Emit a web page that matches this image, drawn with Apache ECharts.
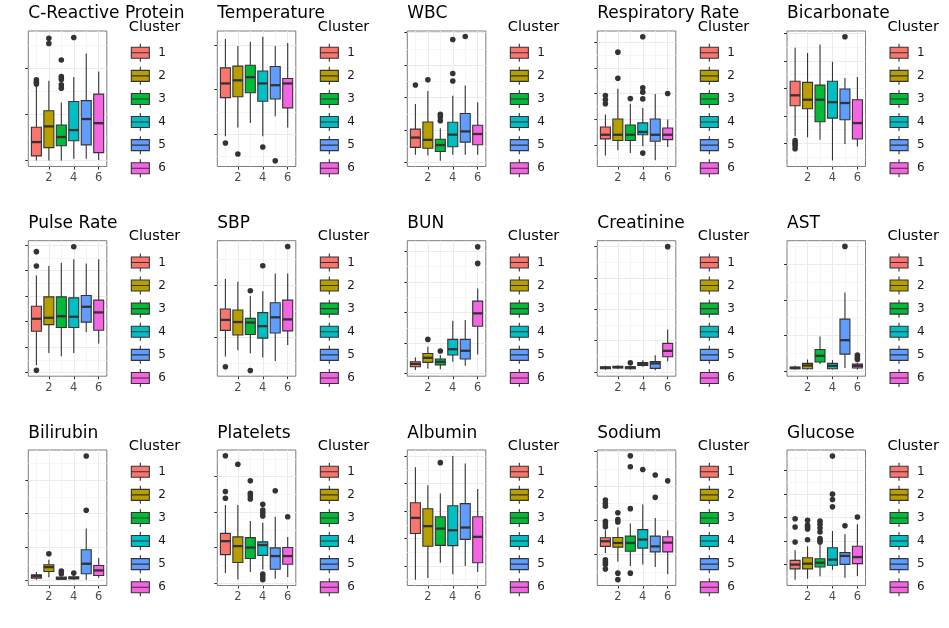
<!DOCTYPE html>
<html><head><meta charset="utf-8">
<script src="https://cdn.jsdelivr.net/npm/echarts@6.0.0/dist/echarts.min.js"></script>
<style>html,body{margin:0;padding:0;background:#fff}#c{width:949px;height:628px}</style>
</head><body><div id="c"></div><script>
// ---- data (values in units of each panel's y tick spacing; y tick labels are hidden in the source) ----
const clusterNames = ['1','2','3','4','5','6'];
const clusterColors = ['#F8766D','#B79F00','#00BA38','#00BFC4','#619CFF','#F564E3'];
const xTicks = [2,4,6];
const xMinor = [1,3,5];
const panelTitles = ['C-Reactive Protein','Temperature','WBC','Respiratory Rate','Bicarbonate',
  'Pulse Rate','SBP','BUN','Creatinine','AST',
  'Bilirubin','Platelets','Albumin','Sodium','Glucose'];

// [lower whisker, Q1, median, Q3, upper whisker] for clusters 1..6
const crpBox = [[0,0.10,0.40,0.72,1.62],[0,0.28,0.74,1.08,1.73],[0,0.32,0.51,0.77,1.26],[0.04,0.43,0.66,1.28,1.81],[0.04,0.34,0.90,1.30,2.32],[0.01,0.17,0.81,1.44,1.93]];
const crpOut = [[1,1.66],[1,1.70],[1,1.75],[2,2.54],[2,2.65],[3,1.57],[3,1.64],[3,1.76],[3,1.82],[3,2.18],[4,2.67]];
const tempBox = [[-0.05,0.82,1.14,1.49,2.14],[0.15,0.84,1.21,1.53,1.98],[0.25,0.93,1.28,1.55,2.08],[-0.05,0.74,1.14,1.42,2.19],[0.40,0.79,1.10,1.52,1.98],[0.15,0.59,1.14,1.25,2.05]];
const tempOut = [[1,-0.20],[2,-0.45],[4,-0.29],[5,-0.60]];
const wbcBox = [[0.24,0.47,0.77,1.03,1.80],[0.22,0.44,0.70,1.25,2.20],[0.06,0.34,0.54,0.72,1.06],[0.24,0.49,0.86,1.24,2.06],[0.24,0.63,0.96,1.51,2.37],[0.24,0.55,0.88,1.15,1.86]];
const wbcOut = [[1,2.39],[2,2.55],[3,1.29],[3,1.40],[3,1.49],[4,2.51],[4,2.74],[4,3.79],[5,3.88]];
const respBox = [[-0.39,0.25,0.41,0.71,1.19],[-0.19,0.19,0.41,1.02,2.19],[-0.30,0.19,0.41,0.79,1.61],[-0.04,0.41,0.52,0.87,1.45],[-0.58,0.16,0.41,1.02,1.99],[-0.06,0.22,0.41,0.67,1.00]];
const respOut = [[1,1.61],[1,1.77],[1,1.93],[2,2.60],[2,3.61],[3,1.81],[4,1.80],[4,2.06],[4,2.23],[4,4.21],[4,-0.30],[6,2.01]];
const bicarbBox = [[0.26,1.37,1.75,2.26,3.48],[0.22,1.26,1.59,2.22,3.29],[0.13,0.79,1.59,2.12,3.60],[-0.62,0.92,1.50,2.26,2.97],[-0.02,0.86,1.47,1.98,2.38],[-0.11,0.16,0.74,1.59,2.42]];
const bicarbOut = [[1,0.10],[1,0.01],[1,-0.07],[1,-0.19],[5,3.88]];
const pulseBox = [[0.29,1.62,2.11,2.60,3.81],[0.77,1.88,2.15,2.97,4.18],[0.64,1.77,2.21,2.97,4.31],[0.77,1.77,2.19,2.93,4.44],[1.58,1.98,2.58,3.02,4.28],[1.14,1.66,2.36,2.84,4.44]];
const pulseOut = [[1,4.74],[1,4.18],[1,0.09],[4,4.93]];
const sbpBox = [[-0.37,0.13,0.33,0.54,1.12],[-0.25,0.04,0.29,0.52,1.06],[-0.31,0.05,0.28,0.36,0.79],[-0.39,-0.02,0.21,0.47,0.88],[-0.46,0.08,0.38,0.66,1.22],[-0.15,0.12,0.34,0.71,1.22]];
const sbpOut = [[1,-0.57],[3,0.89],[3,-0.64],[4,1.37],[6,1.74]];
const bunBox = [[0.12,0.23,0.32,0.39,0.53],[0.17,0.37,0.52,0.66,0.88],[0.15,0.29,0.39,0.48,0.61],[0.39,0.61,0.80,1.12,1.73],[0.26,0.48,0.75,1.12,1.75],[0.63,1.55,1.97,2.37,2.78]];
const bunOut = [[2,1.12],[3,0.74],[6,3.60],[6,4.14]];
const creatBox = [[0.07,0.10,0.13,0.16,0.19],[0.10,0.12,0.15,0.18,0.21],[0.07,0.10,0.14,0.16,0.19],[0.16,0.20,0.25,0.30,0.37],[0.05,0.11,0.27,0.33,0.53],[0.34,0.48,0.67,0.91,1.35]];
const creatOut = [[3,0.29],[6,4.00]];
const astBox = [[0.05,0.07,0.09,0.12,0.15],[0.05,0.07,0.16,0.22,0.33],[0.20,0.26,0.43,0.61,0.97],[0.05,0.07,0.15,0.22,0.31],[0.09,0.48,0.87,1.46,2.21],[0.05,0.09,0.15,0.20,0.23]];
const astOut = [[5,3.50],[6,0.33],[6,0.38],[6,0.45]];
const biliBox = [[0.02,0.07,0.13,0.17,0.25],[0.10,0.27,0.40,0.47,0.62],[0.02,0.04,0.06,0.10,0.12],[0.02,0.05,0.07,0.11,0.12],[0.02,0.20,0.50,0.92,1.55],[0.08,0.15,0.30,0.45,0.67]];
const biliOut = [[2,0.80],[3,0.20],[3,0.28],[4,0.22],[5,2.10],[5,3.72]];
const pltBox = [[0.28,0.80,1.18,1.40,2.20],[0.10,0.58,1.04,1.30,2.20],[0.31,0.69,1.00,1.28,1.75],[0.38,0.78,1.07,1.16,1.70],[0.12,0.39,0.76,0.99,1.87],[0.17,0.53,0.76,1.00,1.30]];
const pltOut = [[1,3.59],[1,2.58],[1,2.39],[2,3.35],[3,2.88],[3,2.53],[3,2.45],[3,2.37],[4,2.22],[4,2.06],[4,1.98],[4,1.89],[4,0.25],[4,0.17],[4,0.09],[5,2.60],[6,1.87]];
const albBox = [[-0.50,1.18,1.75,2.30,3.59],[-0.44,0.72,1.45,2.08,2.94],[0.12,0.75,1.36,1.79,2.64],[-0.30,0.74,1.30,2.19,4.00],[0.00,0.97,1.40,2.27,3.73],[-0.22,0.12,1.06,1.79,2.80]];
const albOut = [[3,3.76]];
const naBox = [[0.05,0.24,0.39,0.49,0.71],[-0.21,0.22,0.34,0.50,0.79],[-0.33,0.10,0.34,0.54,0.91],[-0.29,0.19,0.44,0.73,1.46],[-0.36,0.08,0.24,0.54,1.07],[-0.57,0.08,0.35,0.52,0.71]];
const naOut = [[1,1.59],[1,1.49],[1,1.41],[1,0.97],[1,0.89],[1,0.81],[1,-0.15],[1,-0.22],[1,-0.29],[1,-0.42],[2,1.22],[2,1.02],[2,0.95],[2,-0.54],[2,-0.73],[3,2.88],[3,2.56],[3,1.34],[3,-0.54],[4,2.48],[5,2.32],[5,1.67],[6,2.15]];
const gluBox = [[-0.65,-0.19,-0.01,0.17,0.60],[-0.61,-0.19,0.03,0.28,0.77],[-0.51,-0.11,0.07,0.24,0.88],[-0.23,-0.04,0.20,0.71,1.42],[-0.57,0.00,0.36,0.50,1.28],[-0.50,0.03,0.31,0.77,1.71]];
const gluOut = [[1,1.94],[1,1.59],[1,0.95],[2,1.88],[2,1.67],[2,1.59],[2,1.51],[2,1.05],[3,1.84],[3,1.71],[3,1.55],[3,1.38],[3,1.10],[3,1.02],[3,0.95],[4,4.61],[4,2.99],[4,2.76],[4,2.45],[5,1.64],[6,2.02]];

const panelBoxes = [crpBox,tempBox,wbcBox,respBox,bicarbBox,pulseBox,sbpBox,bunBox,creatBox,astBox,biliBox,pltBox,albBox,naBox,gluBox];
const panelOutliers = [crpOut,tempOut,wbcOut,respOut,bicarbOut,pulseOut,sbpOut,bunOut,creatOut,astOut,biliOut,pltOut,albOut,naOut,gluOut];
const panelTicks = [[0,1,2],[0,1,2],[0,1,2,3,4],[0,1,2,3,4],[0,1,2,3,4],[0,1,2,3,4,5],[0,1],[0,1,2,3,4],[0,1,2,3,4],[0,1,2,3],[0,1,2,3],[0,1,2,3],[0,1,2,3,4],[0,1,2,3],[0,1,2,3,4]];
const panelRanges = [[-0.13,2.81],[-0.73,2.32],[-0.12,4.05],[-0.82,4.43],[-0.84,4.09],[-0.14,5.17],[-0.75,1.85],[-0.08,4.34],[-0.14,4.19],[-0.14,3.66],[-0.15,3.9],[-0.07,3.75],[-0.71,4.22],[-0.90,3.05],[-0.90,4.87]];

// ---- layout / style ----
const FONT = 'DejaVu Sans';
const colLeft = [28.3, 217.3, 407.3, 597.3, 787];
const rowTop = [31, 240.7, 450];
const PW = 78.5, PH = 135.5;
const titleCenter = [14, 223.5, 433.3];
const clusterCenter = [27.3, 236.2, 445.8];
const BOX_W = 0.8;
const OUTLINE = '#333333';
const majorStyle = {color:'#EBEBEB', width:1, type:'solid'};
const minorStyle = {color:'#F3F3F3', width:0.8, type:'solid'};
const legendPath = 'path://M0,3.5H18V14.5H0Z M0,9H18 M9,0V3.5 M9,14.5V18';

function renderBox(params, api) {
  const x = api.value(0);
  const lo = api.coord([x, api.value(1)]);
  const q1 = api.coord([x, api.value(2)]);
  const md = api.coord([x, api.value(3)]);
  const q3 = api.coord([x, api.value(4)]);
  const hi = api.coord([x, api.value(5)]);
  const w = api.size([BOX_W, 0])[0];
  const cx = lo[0];
  const color = api.visual('color');
  const ls = {stroke: OUTLINE, lineWidth: 1.1};
  return {type:'group', children:[
    {type:'line', shape:{x1:cx, y1:hi[1], x2:cx, y2:q3[1]}, style:ls},
    {type:'line', shape:{x1:cx, y1:q1[1], x2:cx, y2:lo[1]}, style:ls},
    {type:'rect', shape:{x:cx-w/2, y:q3[1], width:w, height:q1[1]-q3[1]}, style:{fill:color, stroke:OUTLINE, lineWidth:1.1}},
    {type:'line', shape:{x1:cx-w/2, y1:md[1], x2:cx+w/2, y2:md[1]}, style:{stroke:OUTLINE, lineWidth:2.3}}
  ]};
}

const grids=[], xAxes=[], yAxes=[], series=[], titles=[], legends=[];
panelTitles.forEach((name, p) => {
  const r = Math.floor(p/5), c = p % 5;
  const L = colLeft[c], T = rowTop[r];
  const ticks = panelTicks[p];
  const [ymin, ymax] = panelRanges[p];
  grids.push({left:L, top:T, width:PW, height:PH, show:true, borderColor:'#5c5c5c', borderWidth:0.8, backgroundColor:'transparent'});
  xAxes.push({type:'value', gridIndex:p, min:0.35, max:6.65,
    axisLine:{show:false, onZero:false}, splitLine:{show:false},
    axisTick:{show:true, customValues:xTicks, length:3, lineStyle:{color:OUTLINE, width:1}},
    axisLabel:{show:true, customValues:xTicks, color:'#4D4D4D', fontSize:11.5, fontFamily:FONT, margin:6}});
  yAxes.push({type:'value', gridIndex:p, min:ymin, max:ymax,
    axisLine:{show:false, onZero:false}, splitLine:{show:false},
    axisTick:{show:true, customValues:ticks, length:3, lineStyle:{color:OUTLINE, width:1}},
    axisLabel:{show:false}});
  // grid lines (theme_bw-like)
  const gl = [];
  xMinor.forEach(v => gl.push({xAxis:v, lineStyle:minorStyle}));
  for (let v = ticks[0]-0.5; v <= ticks[ticks.length-1]+0.5; v += 1) {
    if (v > ymin && v < ymax) gl.push({yAxis:v, lineStyle:minorStyle});
  }
  xTicks.forEach(v => gl.push({xAxis:v, lineStyle:majorStyle}));
  ticks.forEach(v => { if (v > ymin && v < ymax) gl.push({yAxis:v, lineStyle:majorStyle}); });

  panelBoxes[p].forEach((b, i) => {
    series.push({type:'custom', name:clusterNames[i], xAxisIndex:p, yAxisIndex:p,
      data:[[i+1].concat(b)], encode:{x:0, y:[1,2,3,4,5]},
      itemStyle:{color:clusterColors[i]}, renderItem:renderBox, z:2, silent:true});
  });
  series.push({type:'scatter', name:'outliers-'+p, xAxisIndex:p, yAxisIndex:p,
    data:panelOutliers[p], symbol:'circle', symbolSize:5.6,
    itemStyle:{color:OUTLINE, opacity:1}, z:4, silent:true,
    markLine:{silent:true, symbol:['none','none'], label:{show:false}, z:1, animation:false,
      emphasis:{disabled:true}, data:gl}});

  titles.push({text:name, left:L, top:titleCenter[r]-10, padding:0,
    textStyle:{fontSize:17, fontWeight:'normal', color:'#000000', fontFamily:FONT, lineHeight:20}});
  titles.push({text:'Cluster', left:L+100.5, top:clusterCenter[r]-9, padding:0,
    textStyle:{fontSize:14.5, fontWeight:'normal', color:'#000000', fontFamily:FONT, lineHeight:18}});
  legends.push({data:clusterNames, orient:'vertical', left:L+102.5, top:T+21.2-9, padding:0,
    itemWidth:18, itemHeight:18, itemGap:4, icon:legendPath,
    itemStyle:{borderColor:OUTLINE, borderWidth:1.1},
    textStyle:{fontSize:12, lineHeight:18, color:'#1A1A1A', fontFamily:FONT, padding:[0,0,0,4]}});
});

const chart = echarts.init(document.getElementById('c'), null, {renderer:'canvas'});
chart.setOption({
  animation:false, backgroundColor:'#ffffff',
  title:titles, legend:legends, grid:grids, xAxis:xAxes, yAxis:yAxes, series:series
});
</script></body></html>
